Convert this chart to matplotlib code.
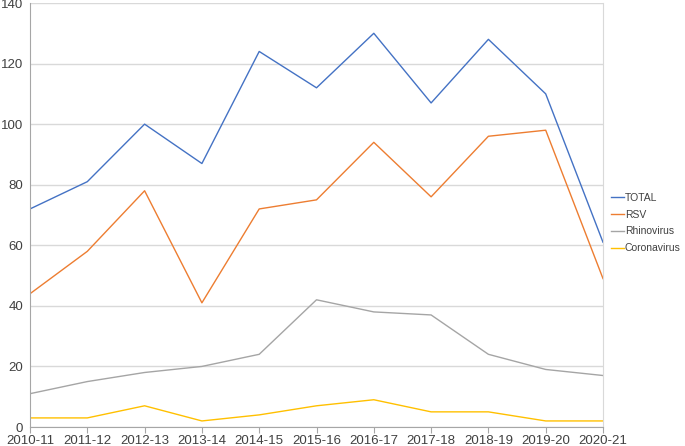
import matplotlib
matplotlib.use("Agg")
import matplotlib.pyplot as plt

seasons = ["2010-11", "2011-12", "2012-13", "2013-14", "2014-15", "2015-16",
           "2016-17", "2017-18", "2018-19", "2019-20", "2020-21"]
total = [72, 81, 100, 87, 124, 112, 130, 107, 128, 110, 61]
rsv = [44, 58, 78, 41, 72, 75, 94, 76, 96, 98, 49]
rhinovirus = [11, 15, 18, 20, 24, 42, 38, 37, 24, 19, 17]
coronavirus = [3, 3, 7, 2, 4, 7, 9, 5, 5, 2, 2]
y_ticks = [0, 20, 40, 60, 80, 100, 120, 140]

plt.rcParams['font.family'] = ['Liberation Sans', 'DejaVu Sans']

fig = plt.figure(figsize=(6.85, 4.46), dpi=100)
ax = fig.add_axes([30/685, 1-427/446, (603-30)/685, (427-3)/446])

x = list(range(len(seasons)))
series = [("TOTAL", total, "#4472C4"), ("RSV", rsv, "#ED7D31"),
          ("Rhinovirus", rhinovirus, "#A5A5A5"), ("Coronavirus", coronavirus, "#FFC000")]
for name, vals, col in series:
    ax.plot(x, vals, color=col, lw=1.0, label=name)

ax.set_xlim(0, len(seasons)-1)
ax.set_ylim(0, 140)
ax.set_yticks(y_ticks)
ax.set_xticks(x)
ax.set_xticklabels(seasons)
ax.grid(axis='y', color='#D9D9D9', lw=1)
ax.set_axisbelow(True)
ax.spines['top'].set_visible(False)
ax.spines['right'].set_color('#D9D9D9')
ax.spines['left'].set_color('#A6A6A6')
ax.spines['bottom'].set_color('#A6A6A6')
ax.tick_params(axis='y', length=0, labelsize=9.5, labelcolor='#404040', pad=5)
ax.tick_params(axis='x', length=4, color='#A6A6A6', labelsize=9.5, labelcolor='#404040', pad=2)

fig.legend(loc='center left', bbox_to_anchor=(611/685, 1-223/446), frameon=False,
           borderaxespad=0, borderpad=0,
           handlelength=1.2, handletextpad=0.12, fontsize=7.5, labelspacing=0.65,
           labelcolor='#404040')

fig.savefig("out.png", dpi=100)
